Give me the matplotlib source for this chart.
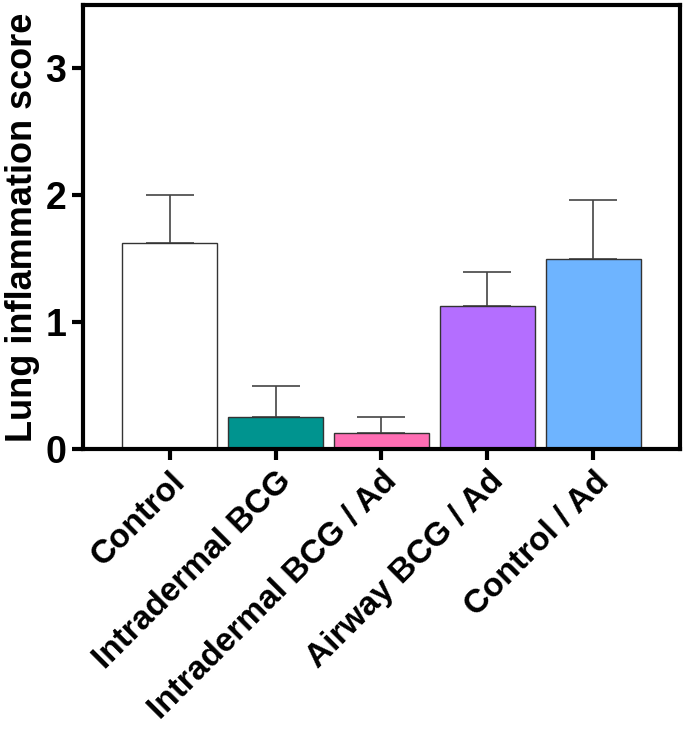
import matplotlib
matplotlib.use("Agg")
import matplotlib.pyplot as plt

categories = ["Control", "Intradermal BCG", "Intradermal BCG / Ad", "Airway BCG / Ad", "Control / Ad"]
means = [1.625, 0.25, 0.125, 1.125, 1.5]
errors = [0.375, 0.25, 0.125, 0.27, 0.46]
colors = ["#FFFFFF", "#00948F", "#FF6EB4", "#B46EFF", "#6EB4FF"]
yticks = [0, 1, 2, 3]

plt.rcParams['font.family'] = ['Liberation Sans', 'DejaVu Sans']
plt.rcParams['font.weight'] = 'bold'

fig = plt.figure(figsize=(6.85, 7.32), dpi=100)
ax = fig.add_axes([83/685, 1-449/732, (680-83)/685, (449-5)/732])

x = list(range(len(categories)))
ax.bar(x, means, width=0.9, color=colors, edgecolor="#333333", linewidth=1.0, zorder=2)
ax.errorbar(x, means, yerr=[[0]*len(errors), errors], fmt='none', ecolor="#444444",
            elinewidth=1.2, capsize=17, capthick=1.2, zorder=1)

ax.set_xlim(-0.82, 4.82)
ax.set_ylim(0, 3.5)
ax.set_yticks(yticks)
ax.set_yticklabels([str(t) for t in yticks], fontsize=27, fontweight='bold')
ax.set_xticks(x)
ax.set_xticklabels(categories, rotation=45, ha='right', rotation_mode='anchor',
                   fontsize=24, fontweight='bold')
ax.set_ylabel("Lung inflammation score", fontsize=26, fontweight='bold', labelpad=4)
for s in ax.spines.values():
    s.set_linewidth(3)
ax.tick_params(axis='both', width=3, length=8, direction='out', pad=4)

fig.savefig("out.png", dpi=100)
